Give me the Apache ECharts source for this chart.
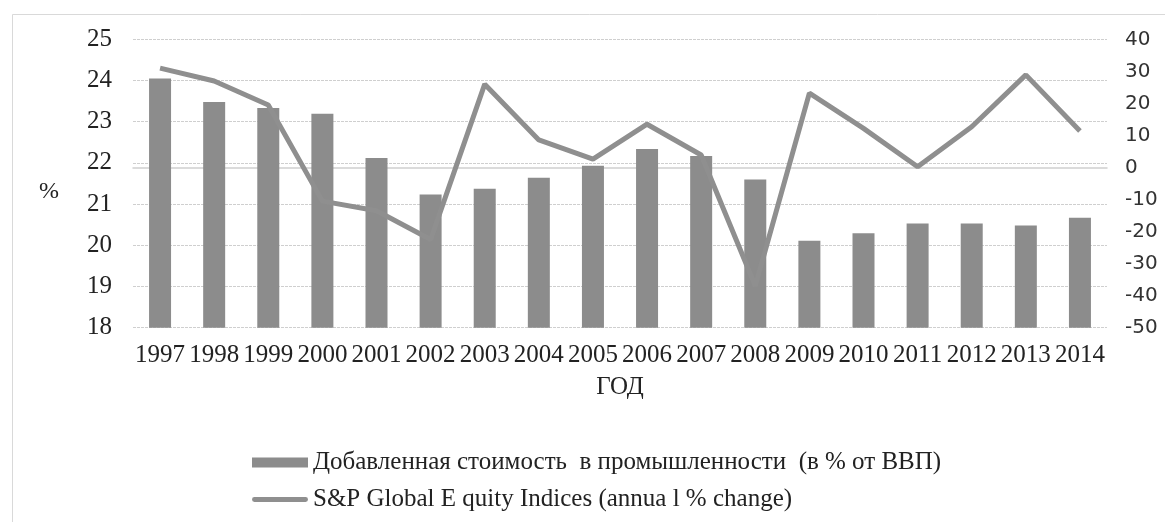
<!DOCTYPE html>
<html>
<head>
<meta charset="utf-8">
<script src="https://cdn.jsdelivr.net/npm/echarts@6/dist/echarts.min.js"></script>
<style>
html,body{margin:0;padding:0;background:#fff;}
#chart{width:1165px;height:522px;}
</style>
</head>
<body>
<div id="chart"></div>
<script>
var years = ['1997','1998','1999','2000','2001','2002','2003','2004','2005','2006','2007','2008','2009','2010','2011','2012','2013','2014'];
var industryShare = [24.05, 23.48, 23.33, 23.19, 22.12, 21.23, 21.37, 21.64, 21.93, 22.34, 22.17, 21.60, 20.11, 20.29, 20.53, 20.53, 20.48, 20.67];
var equityChange = [31, 27, 19.5, -10.5, -13.5, -22.5, 26, 8.6, 2.6, 13.5, 3.9, -37, 23.2, 12.2, 0.2, 12.7, 28.9, 11.4];
var barName = 'Добавленная стоимость  в промышленности  (в % от ВВП)';
var lineName = 'S&P Global E quity Indices (annua l % change)';
var xAxisTitle = 'ГОД';
var yAxisTitle = '%';

var serif = '"Liberation Serif", "Times New Roman", serif';
var sans = '"DejaVu Sans", sans-serif';
var chart = echarts.init(document.getElementById('chart'));
chart.setOption({
  animation: false,
  backgroundColor: '#fff',
  graphic: [{
    type: 'rect', left: 10, top: 12, shape: {width: 1300, height: 700},
    style: {fill: 'none', stroke: '#d9d9d9', lineWidth: 1}, silent: true, z: -1
  }, {
    type: 'text', left: 39, top: 180,
    style: {text: yAxisTitle, font: '24px ' + serif, fill: '#222'}, silent: true
  }],
  grid: {left: 133, right: 58, top: 39.3, bottom: 194.3, containLabel: false},
  legend: {
    orient: 'vertical', left: 247, top: 445, itemWidth: 56, itemHeight: 10, itemGap: 12,
    textStyle: {fontFamily: serif, fontSize: 25, color: '#222'},
    data: [
      {name: barName, icon: 'rect'},
      {name: lineName, icon: 'path://M2,0 L54,0 A2.5,2.5 0 0 1 54,5 L2,5 A2.5,2.5 0 0 1 2,0 Z', itemStyle: {color: '#8f8f8f'}}
    ]
  },
  xAxis: {
    type: 'category', data: years,
    name: xAxisTitle, nameLocation: 'middle', nameGap: 47,
    nameTextStyle: {fontFamily: serif, fontSize: 25, color: '#222'},
    axisLine: {show: true, lineStyle: {color: '#d0d0d0', width: 1.5}},
    axisTick: {show: false},
    axisLabel: {interval: 0, fontFamily: serif, fontSize: 25, color: '#222', margin: 15}
  },
  yAxis: [{
    type: 'value', min: 18, max: 25, interval: 1,
    axisLine: {show: false}, axisTick: {show: false},
    axisLabel: {fontFamily: serif, fontSize: 25, color: '#222', margin: 21},
    splitLine: {lineStyle: {color: '#cfcfcf', type: [3, 1], width: 1}}
  }, {
    type: 'value', min: -50, max: 40, interval: 10,
    axisLine: {show: false}, axisTick: {show: false},
    axisLabel: {fontFamily: sans, fontSize: 20, color: '#333', margin: 18},
    splitLine: {show: false}
  }],
  series: [{
    name: barName, type: 'bar', data: industryShare, yAxisIndex: 0,
    barWidth: 22, itemStyle: {color: '#8c8c8c'}
  }, {
    name: lineName, type: 'line', data: equityChange, yAxisIndex: 1,
    symbol: 'none', lineStyle: {color: '#8f8f8f', width: 5}, itemStyle: {color: '#8f8f8f'}, z: 3
  }]
});
</script>
</body>
</html>
